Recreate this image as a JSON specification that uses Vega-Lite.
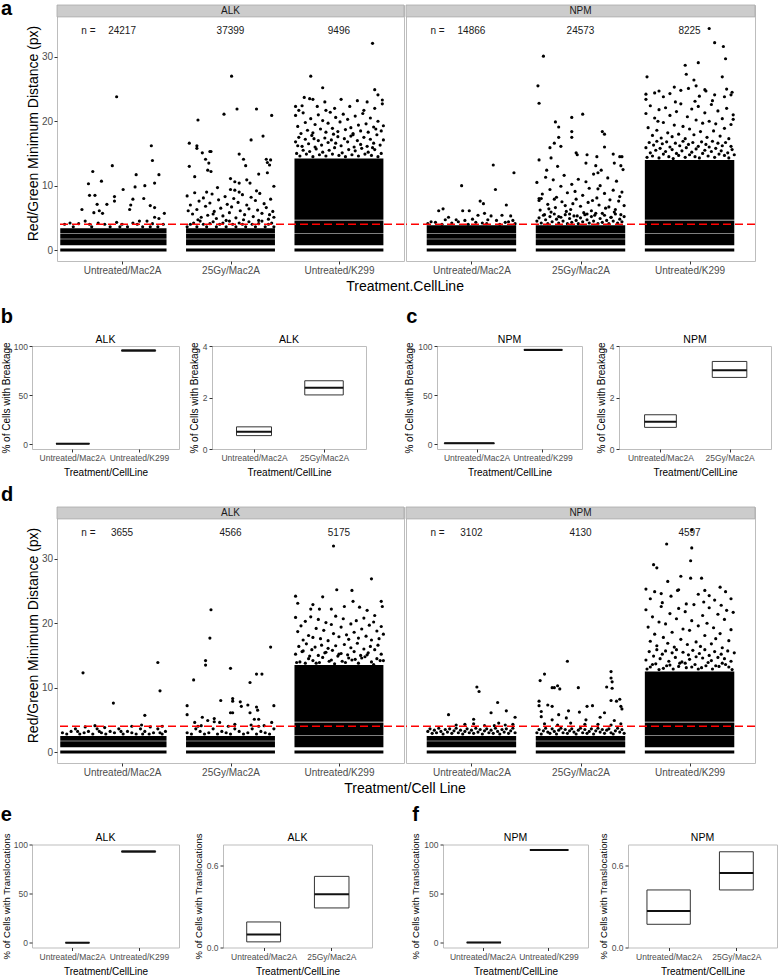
{
"$schema":"https://vega.github.io/schema/vega-lite/v6.json",
"padding":{"left":0,"right":0,"top":-1,"bottom":0},
"background":"white",
"config":{"font":"Liberation Sans","view":{"stroke":"#bdbdbd","strokeWidth":1},
"axis":{"grid":false,"domain":false,"tickColor":"#333333","tickSize":3,"tickWidth":1,"labelColor":"#4d4d4d","titleColor":"#000000","titleFontWeight":"normal","labelFlush":false,"labelOverlap":false,"labelFont":"Liberation Sans","titleFont":"Liberation Sans"},
"title":{"fontWeight":"normal","color":"#000000","font":"Liberation Sans"}},
"datasets":{
"nlab":[{"g":"aALK","x":0.69,"t":"n ="},{"g":"aALK","x":1,"t":"24217"},{"g":"aALK","x":2,"t":"37399"},{"g":"aALK","x":3,"t":"9496"},{"g":"aNPM","x":0.69,"t":"n ="},{"g":"aNPM","x":1,"t":"14866"},{"g":"aNPM","x":2,"t":"24573"},{"g":"aNPM","x":3,"t":"8225"},{"g":"dALK","x":0.69,"t":"n ="},{"g":"dALK","x":1,"t":"3655"},{"g":"dALK","x":2,"t":"4566"},{"g":"dALK","x":3,"t":"5175"},{"g":"dNPM","x":0.69,"t":"n ="},{"g":"dNPM","x":1,"t":"3102"},{"g":"dNPM","x":2,"t":"4130"},{"g":"dNPM","x":3,"t":"4597"}],
"aALKband":[{"x":0.43,"x2":1.41,"y":-0.24,"y2":0.24},{"x":0.43,"x2":1.41,"y":0.76,"y2":1.67},{"x":0.43,"x2":1.41,"y":1.74,"y2":2.5},{"x":0.43,"x2":1.41,"y":2.57,"y2":3.4},{"x":1.59,"x2":2.41,"y":-0.24,"y2":0.24},{"x":1.59,"x2":2.41,"y":0.76,"y2":1.67},{"x":1.59,"x2":2.41,"y":1.74,"y2":2.5},{"x":1.59,"x2":2.41,"y":2.57,"y2":3.4},{"x":2.59,"x2":3.41,"y":-0.24,"y2":0.24},{"x":2.59,"x2":3.41,"y":0.76,"y2":2.5},{"x":2.59,"x2":3.41,"y":2.57,"y2":4.6},{"x":2.59,"x2":3.41,"y":4.7,"y2":14.2}],
"aNPMband":[{"x":0.59,"x2":1.41,"y":-0.24,"y2":0.24},{"x":0.59,"x2":1.41,"y":0.76,"y2":1.67},{"x":0.59,"x2":1.41,"y":1.74,"y2":2.5},{"x":0.59,"x2":1.41,"y":2.57,"y2":3.85},{"x":1.59,"x2":2.41,"y":-0.24,"y2":0.24},{"x":1.59,"x2":2.41,"y":0.76,"y2":1.67},{"x":1.59,"x2":2.41,"y":1.74,"y2":2.5},{"x":1.59,"x2":2.41,"y":2.57,"y2":3.85},{"x":2.59,"x2":3.41,"y":-0.24,"y2":0.24},{"x":2.59,"x2":3.41,"y":0.76,"y2":2.5},{"x":2.59,"x2":3.41,"y":2.57,"y2":4.6},{"x":2.59,"x2":3.41,"y":4.7,"y2":14.0}],
"dALKband":[{"x":0.43,"x2":1.41,"y":-0.24,"y2":0.24},{"x":0.43,"x2":1.41,"y":0.76,"y2":1.67},{"x":0.43,"x2":1.41,"y":1.74,"y2":2.5},{"x":1.59,"x2":2.41,"y":-0.24,"y2":0.24},{"x":1.59,"x2":2.41,"y":0.76,"y2":1.67},{"x":1.59,"x2":2.41,"y":1.74,"y2":2.5},{"x":2.59,"x2":3.41,"y":-0.24,"y2":0.24},{"x":2.59,"x2":3.41,"y":0.76,"y2":2.5},{"x":2.59,"x2":3.41,"y":2.57,"y2":4.6},{"x":2.59,"x2":3.41,"y":4.7,"y2":13.5}],
"dNPMband":[{"x":0.59,"x2":1.41,"y":-0.24,"y2":0.24},{"x":0.59,"x2":1.41,"y":0.76,"y2":1.67},{"x":0.59,"x2":1.41,"y":1.74,"y2":2.5},{"x":1.59,"x2":2.41,"y":-0.24,"y2":0.24},{"x":1.59,"x2":2.41,"y":0.76,"y2":1.67},{"x":1.59,"x2":2.41,"y":1.74,"y2":2.5},{"x":2.59,"x2":3.41,"y":-0.24,"y2":0.24},{"x":2.59,"x2":3.41,"y":0.76,"y2":2.5},{"x":2.59,"x2":3.41,"y":2.57,"y2":4.6},{"x":2.59,"x2":3.41,"y":4.7,"y2":12.5}],
"aALKpts":[{"x":0.95,"y":23.8},{"x":1.27,"y":16.2},{"x":0.91,"y":13.1},{"x":0.73,"y":12.2},{"x":1.28,"y":13.9},{"x":0.69,"y":10.3},{"x":0.81,"y":10.7},{"x":1.13,"y":11.7},{"x":1.34,"y":11.7},{"x":1.01,"y":9.4},{"x":1.12,"y":9.8},{"x":1.21,"y":10},{"x":1.3,"y":10.4},{"x":0.7,"y":8.5},{"x":0.75,"y":8.5},{"x":0.93,"y":8.3},{"x":0.93,"y":7.6},{"x":1.08,"y":7},{"x":1.1,"y":7.9},{"x":1.2,"y":8},{"x":1.26,"y":6.9},{"x":1.3,"y":6.6},{"x":0.63,"y":6.3},{"x":0.74,"y":5.8},{"x":0.77,"y":7.1},{"x":0.79,"y":6.1},{"x":0.82,"y":5.7},{"x":0.86,"y":7.1},{"x":1.07,"y":6.3},{"x":1.34,"y":4.9},{"x":1.39,"y":5.7},{"x":1.3,"y":5.1},{"x":0.47,"y":4},{"x":0.55,"y":3.6},{"x":0.6,"y":4.1},{"x":0.66,"y":4.5},{"x":0.72,"y":3.6},{"x":0.78,"y":4.2},{"x":0.84,"y":4},{"x":0.89,"y":3.6},{"x":0.95,"y":4.3},{"x":1,"y":4},{"x":1.05,"y":3.6},{"x":1.1,"y":4.2},{"x":1.14,"y":4},{"x":1.19,"y":3.6},{"x":1.23,"y":4.5},{"x":1.28,"y":4.1},{"x":1.33,"y":3.6},{"x":1.38,"y":4},{"x":0.52,"y":4.2},{"x":0.98,"y":3.6},{"x":1.16,"y":4.5},{"x":0.7,"y":4},{"x":1.26,"y":3.6},
{"x":2.01,"y":27},{"x":1.7,"y":20.2},{"x":1.94,"y":21.1},{"x":2.06,"y":21.9},{"x":2.24,"y":21.9},{"x":2.38,"y":20.9},{"x":1.62,"y":16.6},{"x":1.69,"y":16.2},{"x":1.69,"y":15.8},{"x":1.74,"y":15.1},{"x":1.81,"y":15.3},{"x":1.82,"y":15.3},{"x":1.77,"y":14.1},{"x":1.8,"y":13.5},{"x":1.79,"y":12.4},{"x":1.82,"y":12.2},{"x":2.19,"y":17.1},{"x":2.3,"y":17.7},{"x":2.08,"y":14.9},{"x":2.12,"y":14.1},{"x":2.14,"y":13.1},{"x":2.33,"y":14.1},{"x":2.34,"y":13.6},{"x":2.37,"y":14},{"x":2.36,"y":13.2},{"x":2.34,"y":12},{"x":1.62,"y":13},{"x":1.67,"y":11.4},{"x":2,"y":11.1},{"x":2.04,"y":10.6},{"x":2.08,"y":10.4},{"x":2.15,"y":10.9},{"x":2.18,"y":10.4},{"x":2.26,"y":11.8},{"x":2.24,"y":9.2},{"x":2.4,"y":9.9},{"x":1.88,"y":9.7},{"x":2,"y":9.4},{"x":2.04,"y":9.3},
{"x":1.6,"y":8.4},{"x":1.63,"y":7},{"x":1.65,"y":5.6},{"x":1.67,"y":8.9},{"x":1.69,"y":6.3},{"x":1.71,"y":7.6},{"x":1.73,"y":5.1},{"x":1.75,"y":8.1},{"x":1.77,"y":6.8},{"x":1.79,"y":5.4},{"x":1.81,"y":7.3},{"x":1.83,"y":8.7},{"x":1.85,"y":6},{"x":1.87,"y":4.9},{"x":1.89,"y":7.8},{"x":1.91,"y":6.5},{"x":1.93,"y":5.3},{"x":1.95,"y":8.3},{"x":1.97,"y":7.1},{"x":1.99,"y":5.8},{"x":2.01,"y":6.7},{"x":2.03,"y":8},{"x":2.05,"y":5},{"x":2.07,"y":7.4},{"x":2.09,"y":6.1},{"x":2.11,"y":8.6},{"x":2.13,"y":5.5},{"x":2.15,"y":7},{"x":2.17,"y":6.4},{"x":2.19,"y":8.2},{"x":2.21,"y":5.2},{"x":2.23,"y":7.7},{"x":2.25,"y":6.2},{"x":2.27,"y":8.8},{"x":2.29,"y":5.7},{"x":2.31,"y":7.2},{"x":2.33,"y":6.6},{"x":2.35,"y":4.8},{"x":2.37,"y":7.9},{"x":2.39,"y":6},{"x":2.4,"y":5.1},{"x":1.61,"y":6.1},{"x":1.7,"y":4.7},{"x":1.84,"y":5.6},{"x":1.96,"y":4.6},{"x":2.12,"y":4.7},{"x":2.26,"y":4.6},{"x":2.36,"y":5.5},{"x":1.78,"y":9},{"x":2.08,"y":9},
{"x":1.6,"y":3.6},{"x":1.63,"y":4},{"x":1.66,"y":4.2},{"x":1.69,"y":3.6},{"x":1.72,"y":4.5},{"x":1.75,"y":4},{"x":1.78,"y":3.6},{"x":1.81,"y":4.1},{"x":1.84,"y":4.4},{"x":1.87,"y":3.6},{"x":1.9,"y":4},{"x":1.93,"y":4.2},{"x":1.96,"y":3.6},{"x":1.99,"y":4.5},{"x":2.02,"y":4},{"x":2.05,"y":3.6},{"x":2.08,"y":4.2},{"x":2.11,"y":4},{"x":2.14,"y":3.6},{"x":2.17,"y":4.4},{"x":2.2,"y":4},{"x":2.23,"y":3.6},{"x":2.26,"y":4.1},{"x":2.29,"y":4.5},{"x":2.32,"y":3.6},{"x":2.35,"y":4},{"x":2.38,"y":4.2},{"x":2.4,"y":3.6},
{"x":2.74,"y":27},{"x":2.85,"y":25.2},{"x":3.31,"y":32.1},{"x":3.33,"y":24.9},{"x":3.36,"y":24.1},{"x":2.68,"y":23.7},{"x":2.73,"y":23.5},{"x":2.76,"y":23.4},{"x":3.02,"y":23.4},{"x":2.87,"y":23},{"x":3.26,"y":23},{"x":3.4,"y":23.3},{"x":3.4,"y":22.7},{"x":3.17,"y":23.2},{"x":2.6,"y":22.3},{"x":2.63,"y":21.7},{"x":2.66,"y":22.4},{"x":2.8,"y":22.3},{"x":2.88,"y":21.7},{"x":2.96,"y":22},{"x":3.1,"y":22.3},{"x":3.23,"y":21.7},{"x":3.33,"y":22},
{"x":2.6,"y":20.9},{"x":2.62,"y":19.2},{"x":2.65,"y":18.1},{"x":2.67,"y":21.3},{"x":2.69,"y":19.8},{"x":2.71,"y":18.6},{"x":2.74,"y":20.4},{"x":2.76,"y":18.2},{"x":2.78,"y":19.5},{"x":2.81,"y":21},{"x":2.83,"y":18.8},{"x":2.85,"y":20.1},{"x":2.88,"y":18.3},{"x":2.9,"y":19.7},{"x":2.92,"y":21.4},{"x":2.94,"y":18.9},{"x":2.97,"y":20.6},{"x":2.99,"y":18.4},{"x":3.01,"y":19.9},{"x":3.04,"y":21.1},{"x":3.06,"y":18.7},{"x":3.08,"y":20.3},{"x":3.11,"y":19},{"x":3.13,"y":18.1},{"x":3.15,"y":20.8},{"x":3.18,"y":19.4},{"x":3.2,"y":18.5},{"x":3.22,"y":21.2},{"x":3.25,"y":19.6},{"x":3.27,"y":18.3},{"x":3.29,"y":20.5},{"x":3.32,"y":19.1},{"x":3.34,"y":18.8},{"x":3.36,"y":20},{"x":3.39,"y":18.5},{"x":3.41,"y":19.3},
{"x":2.6,"y":16.8},{"x":2.61,"y":15},{"x":2.63,"y":17.5},{"x":2.64,"y":14.6},{"x":2.66,"y":16.1},{"x":2.67,"y":15.5},{"x":2.69,"y":17.2},{"x":2.7,"y":14.9},{"x":2.72,"y":16.5},{"x":2.73,"y":15.3},{"x":2.75,"y":17.8},{"x":2.76,"y":14.5},{"x":2.78,"y":16},{"x":2.79,"y":15.7},{"x":2.81,"y":17},{"x":2.82,"y":14.8},{"x":2.84,"y":16.3},{"x":2.85,"y":15.2},{"x":2.87,"y":17.4},{"x":2.88,"y":14.6},{"x":2.9,"y":16.7},{"x":2.91,"y":15.5},{"x":2.93,"y":17.1},{"x":2.94,"y":14.9},{"x":2.96,"y":15.9},{"x":2.97,"y":16.6},{"x":2.99,"y":17.6},{"x":3,"y":14.7},{"x":3.02,"y":16.2},{"x":3.03,"y":15.1},{"x":3.05,"y":17.3},{"x":3.06,"y":14.5},{"x":3.08,"y":16.8},{"x":3.09,"y":15.6},{"x":3.11,"y":17.7},{"x":3.12,"y":14.8},{"x":3.14,"y":16},{"x":3.15,"y":15.4},{"x":3.17,"y":17},{"x":3.18,"y":14.6},{"x":3.2,"y":16.4},{"x":3.21,"y":15.8},{"x":3.23,"y":17.5},{"x":3.24,"y":14.9},{"x":3.26,"y":16.1},{"x":3.27,"y":15.2},{"x":3.29,"y":17.2},{"x":3.3,"y":14.7},{"x":3.32,"y":16.6},{"x":3.33,"y":15.6},{"x":3.35,"y":17.9},{"x":3.36,"y":14.5},{"x":3.38,"y":16.3},{"x":3.39,"y":15},{"x":3.41,"y":17.1},{"x":2.62,"y":16.2},{"x":2.77,"y":17.3},{"x":2.95,"y":18},{"x":3.13,"y":17.9},{"x":3.31,"y":15.9}],
"aNPMpts":[{"x":1.2,"y":13.2},{"x":1.39,"y":12},{"x":0.91,"y":10},{"x":1.22,"y":9.4},{"x":1.08,"y":7.6},{"x":1.11,"y":7.2},{"x":1.32,"y":7},{"x":0.7,"y":6.1},{"x":0.74,"y":6.4},{"x":0.92,"y":6.1},{"x":0.98,"y":6.1},{"x":0.79,"y":5.1},{"x":0.76,"y":4.7},{"x":1.06,"y":5.4},{"x":1.12,"y":5.7},{"x":1.18,"y":5.3},{"x":1.28,"y":5.4},{"x":1.36,"y":5.3},{"x":0.86,"y":4.7},{"x":0.94,"y":4.6},{"x":1.01,"y":4.8},{"x":1.15,"y":4.7},{"x":1.23,"y":4.6},{"x":1.38,"y":4.6},{"x":0.63,"y":4.4},{"x":0.82,"y":4.2},{"x":1.1,"y":4.2},{"x":1.31,"y":4.3},{"x":0.6,"y":4.1},{"x":0.67,"y":4.3},{"x":0.73,"y":4},{"x":0.88,"y":4.4},{"x":0.97,"y":4},{"x":1.04,"y":4.3},{"x":1.14,"y":4.1},{"x":1.26,"y":4},{"x":1.34,"y":4.4},{"x":1.4,"y":4.1},
{"x":1.66,"y":30.1},{"x":1.61,"y":25.5},{"x":1.62,"y":22.8},{"x":2.02,"y":21.1},{"x":1.92,"y":20.6},{"x":1.77,"y":19.9},{"x":1.8,"y":19.1},{"x":1.8,"y":17.5},{"x":1.76,"y":16.6},{"x":1.82,"y":16.1},{"x":1.92,"y":18.4},{"x":1.92,"y":17.5},{"x":1.72,"y":15.9},{"x":1.73,"y":14.3},{"x":1.62,"y":14},{"x":1.96,"y":15.1},{"x":1.97,"y":14.8},{"x":2.06,"y":14.8},{"x":2.15,"y":14.5},{"x":2.2,"y":18.4},{"x":2.22,"y":18},{"x":2.22,"y":16},{"x":2.3,"y":14.9},{"x":2.36,"y":14.5},{"x":2.38,"y":14.5},{"x":1.69,"y":12.4},{"x":1.79,"y":13},{"x":2.05,"y":13.5},{"x":2.14,"y":13.1},{"x":2.16,"y":12},{"x":2.31,"y":13.5},{"x":2.37,"y":13.1},{"x":2.39,"y":12.5},{"x":2.19,"y":12.4},{"x":1.62,"y":8},{"x":1.64,"y":8},
{"x":1.6,"y":10.5},{"x":1.63,"y":6.2},{"x":1.65,"y":8.7},{"x":1.67,"y":5.5},{"x":1.68,"y":11.3},{"x":1.7,"y":7.1},{"x":1.72,"y":9.4},{"x":1.73,"y":5.9},{"x":1.75,"y":10.9},{"x":1.77,"y":6.6},{"x":1.78,"y":8.2},{"x":1.8,"y":5.2},{"x":1.82,"y":9.9},{"x":1.83,"y":7.5},{"x":1.85,"y":11.6},{"x":1.87,"y":6},{"x":1.88,"y":8.9},{"x":1.9,"y":5.6},{"x":1.92,"y":10.2},{"x":1.93,"y":7.2},{"x":1.95,"y":9.1},{"x":1.97,"y":5.3},{"x":1.98,"y":11},{"x":2,"y":6.8},{"x":2.02,"y":8.5},{"x":2.03,"y":5.8},{"x":2.05,"y":10.6},{"x":2.07,"y":7.4},{"x":2.08,"y":9.6},{"x":2.1,"y":6.1},{"x":2.12,"y":11.8},{"x":2.13,"y":5.4},{"x":2.15,"y":8.1},{"x":2.17,"y":7},{"x":2.18,"y":10},{"x":2.2,"y":5.7},{"x":2.22,"y":8.8},{"x":2.23,"y":6.5},{"x":2.25,"y":11.2},{"x":2.27,"y":7.8},{"x":2.28,"y":5.1},{"x":2.3,"y":9.3},{"x":2.32,"y":6.3},{"x":2.33,"y":10.7},{"x":2.35,"y":7.6},{"x":2.37,"y":5.5},{"x":2.38,"y":9},{"x":2.4,"y":6.9},{"x":1.62,"y":7.7},{"x":1.76,"y":7.9},{"x":1.86,"y":6.9},{"x":1.96,"y":7.9},{"x":2.06,"y":5.6},{"x":2.16,"y":9.5},{"x":2.26,"y":6.7},{"x":2.36,"y":8.3},{"x":1.71,"y":6.4},{"x":1.91,"y":6.3},{"x":2.11,"y":7.7},{"x":2.31,"y":5.9},
{"x":1.6,"y":4.5},{"x":1.62,"y":5},{"x":1.64,"y":4.2},{"x":1.66,"y":5.4},{"x":1.68,"y":4.7},{"x":1.7,"y":4.1},{"x":1.72,"y":5.2},{"x":1.74,"y":4.4},{"x":1.76,"y":5.6},{"x":1.78,"y":4.8},{"x":1.8,"y":4.2},{"x":1.82,"y":5.1},{"x":1.84,"y":4.5},{"x":1.86,"y":5.5},{"x":1.88,"y":4.1},{"x":1.9,"y":4.9},{"x":1.92,"y":4.3},{"x":1.94,"y":5.3},{"x":1.96,"y":4.6},{"x":1.98,"y":4.1},{"x":2,"y":5},{"x":2.02,"y":4.4},{"x":2.04,"y":5.5},{"x":2.06,"y":4.7},{"x":2.08,"y":4.2},{"x":2.1,"y":5.2},{"x":2.12,"y":4.5},{"x":2.14,"y":5.7},{"x":2.16,"y":4.1},{"x":2.18,"y":4.9},{"x":2.2,"y":4.3},{"x":2.22,"y":5.4},{"x":2.24,"y":4.6},{"x":2.26,"y":4.1},{"x":2.28,"y":5.1},{"x":2.3,"y":4.5},{"x":2.32,"y":5.6},{"x":2.34,"y":4.2},{"x":2.36,"y":4.8},{"x":2.38,"y":4.4},{"x":2.4,"y":5.2},
{"x":3.18,"y":34.4},{"x":3.23,"y":32.2},{"x":3.31,"y":31.6},{"x":3.33,"y":29.7},{"x":3.08,"y":29.1},{"x":2.96,"y":28.7},{"x":2.97,"y":27.3},{"x":2.61,"y":26.9},{"x":3.04,"y":26.4},{"x":3.3,"y":26.9},{"x":3.06,"y":25.5},{"x":2.86,"y":25.3},{"x":2.92,"y":24.8},{"x":2.99,"y":25.1},{"x":3.14,"y":24.9},{"x":3.15,"y":24.7},{"x":3.34,"y":25},{"x":2.6,"y":24.2},{"x":2.6,"y":23.4},{"x":2.68,"y":24.4},{"x":2.72,"y":24.7},{"x":2.76,"y":23.8},{"x":2.82,"y":24.3},{"x":3.39,"y":24.5},{"x":3.38,"y":24.1},{"x":3.32,"y":23.8},{"x":3.23,"y":24.1},{"x":3.09,"y":23.9},{"x":3.4,"y":20.3},
{"x":2.6,"y":21.2},{"x":2.62,"y":19},{"x":2.64,"y":22.4},{"x":2.66,"y":17.8},{"x":2.68,"y":20.5},{"x":2.7,"y":18.6},{"x":2.72,"y":21.8},{"x":2.74,"y":17.4},{"x":2.76,"y":19.8},{"x":2.78,"y":22.1},{"x":2.8,"y":18.2},{"x":2.82,"y":20.9},{"x":2.84,"y":17.6},{"x":2.86,"y":19.4},{"x":2.88,"y":21.5},{"x":2.9,"y":18},{"x":2.92,"y":22.7},{"x":2.94,"y":19.2},{"x":2.96,"y":17.3},{"x":2.98,"y":20.7},{"x":3,"y":18.8},{"x":3.02,"y":21.9},{"x":3.04,"y":17.9},{"x":3.06,"y":20.2},{"x":3.08,"y":22.3},{"x":3.1,"y":18.4},{"x":3.12,"y":19.7},{"x":3.14,"y":21.3},{"x":3.16,"y":17.5},{"x":3.18,"y":20},{"x":3.2,"y":22.6},{"x":3.22,"y":18.5},{"x":3.24,"y":19.6},{"x":3.26,"y":21.6},{"x":3.28,"y":17.7},{"x":3.3,"y":20.4},{"x":3.32,"y":18.9},{"x":3.34,"y":22},{"x":3.36,"y":17.3},{"x":3.38,"y":19.5},{"x":3.4,"y":21},{"x":2.71,"y":20},{"x":2.87,"y":23},{"x":3.05,"y":23.1},{"x":3.21,"y":23.2},
{"x":2.6,"y":15.9},{"x":2.61,"y":14.4},{"x":2.63,"y":16.7},{"x":2.64,"y":15.1},{"x":2.66,"y":14.6},{"x":2.67,"y":16.3},{"x":2.69,"y":15.5},{"x":2.7,"y":16.9},{"x":2.72,"y":14.3},{"x":2.73,"y":15.8},{"x":2.75,"y":16.5},{"x":2.76,"y":14.9},{"x":2.78,"y":15.3},{"x":2.79,"y":16.8},{"x":2.81,"y":14.5},{"x":2.82,"y":16},{"x":2.84,"y":15.6},{"x":2.85,"y":14.2},{"x":2.87,"y":16.6},{"x":2.88,"y":15},{"x":2.9,"y":14.7},{"x":2.91,"y":16.2},{"x":2.93,"y":15.4},{"x":2.94,"y":16.9},{"x":2.96,"y":14.4},{"x":2.97,"y":15.9},{"x":2.99,"y":16.4},{"x":3,"y":14.8},{"x":3.02,"y":15.2},{"x":3.03,"y":16.7},{"x":3.05,"y":14.5},{"x":3.06,"y":15.7},{"x":3.08,"y":16.1},{"x":3.09,"y":14.3},{"x":3.11,"y":16.8},{"x":3.12,"y":15},{"x":3.14,"y":15.5},{"x":3.15,"y":16.4},{"x":3.17,"y":14.6},{"x":3.18,"y":16},{"x":3.2,"y":15.3},{"x":3.21,"y":16.9},{"x":3.23,"y":14.4},{"x":3.24,"y":15.8},{"x":3.26,"y":16.6},{"x":3.27,"y":14.9},{"x":3.29,"y":15.4},{"x":3.3,"y":16.2},{"x":3.32,"y":14.7},{"x":3.33,"y":16.7},{"x":3.35,"y":15.1},{"x":3.36,"y":14.3},{"x":3.38,"y":16.1},{"x":3.39,"y":15.6},{"x":3.41,"y":14.8}],
"dALKpts":[{"x":0.64,"y":12.3},{"x":0.92,"y":7.6},{"x":1.33,"y":13.9},{"x":1.35,"y":9.5},{"x":1.21,"y":5.7},{"x":0.66,"y":3.9},{"x":0.75,"y":4.1},{"x":0.84,"y":3.8},{"x":1.09,"y":4},{"x":1.18,"y":4.2},{"x":1.26,"y":3.9},{"x":1.37,"y":4},
{"x":0.45,"y":3},{"x":0.49,"y":2.8},{"x":0.53,"y":3.2},{"x":0.57,"y":3.6},{"x":0.61,"y":2.8},{"x":0.65,"y":3},{"x":0.69,"y":3.2},{"x":0.73,"y":2.8},{"x":0.77,"y":3.6},{"x":0.81,"y":3},{"x":0.85,"y":2.8},{"x":0.89,"y":3.2},{"x":0.93,"y":3},{"x":0.97,"y":3.6},{"x":1.01,"y":2.8},{"x":1.05,"y":3.2},{"x":1.09,"y":3},{"x":1.13,"y":2.8},{"x":1.17,"y":3.6},{"x":1.21,"y":3.2},{"x":1.25,"y":2.8},{"x":1.29,"y":3},{"x":1.33,"y":3.6},{"x":1.37,"y":2.8},{"x":1.4,"y":3.2},{"x":0.59,"y":3.2},{"x":0.79,"y":3.2},{"x":0.99,"y":3.2},{"x":1.19,"y":2.8},{"x":1.35,"y":3},
{"x":1.82,"y":22.1},{"x":1.81,"y":17.7},{"x":1.77,"y":14.2},{"x":1.77,"y":13.5},{"x":1.66,"y":11.2},{"x":2,"y":13},{"x":2.37,"y":16.3},{"x":2.24,"y":12.1},{"x":2.29,"y":12.1},{"x":2.18,"y":10.8},{"x":1.91,"y":8},{"x":2.02,"y":8.3},{"x":2.02,"y":7.9},{"x":2.09,"y":7.8},{"x":2.1,"y":7.1},{"x":2.16,"y":7.3},{"x":2.24,"y":7},{"x":2.25,"y":6.5},{"x":2.4,"y":7.2},{"x":1.6,"y":7.2},{"x":1.6,"y":5.8},{"x":2,"y":6.1},{"x":2.02,"y":6.1},{"x":2.18,"y":6.1},{"x":2.26,"y":5.1},{"x":2.22,"y":5.1},{"x":1.74,"y":5.4},{"x":1.85,"y":5.2},{"x":1.85,"y":4.7},{"x":1.79,"y":4.9},{"x":1.9,"y":4.6},{"x":1.67,"y":4.6},{"x":2.38,"y":4.6},{"x":2.04,"y":4.3},{"x":2.19,"y":4.2},{"x":2.31,"y":4.1},{"x":1.73,"y":4.1},
{"x":1.6,"y":3},{"x":1.64,"y":2.8},{"x":1.68,"y":3.6},{"x":1.72,"y":3.2},{"x":1.76,"y":2.8},{"x":1.8,"y":3},{"x":1.84,"y":3.6},{"x":1.88,"y":2.8},{"x":1.92,"y":3.2},{"x":1.96,"y":3},{"x":2,"y":2.8},{"x":2.04,"y":3.6},{"x":2.08,"y":3.2},{"x":2.12,"y":2.8},{"x":2.16,"y":3},{"x":2.2,"y":3.6},{"x":2.24,"y":2.8},{"x":2.28,"y":3.2},{"x":2.32,"y":3},{"x":2.36,"y":2.8},{"x":2.4,"y":3.6},{"x":1.7,"y":4},{"x":1.98,"y":4},{"x":2.26,"y":4},
{"x":2.95,"y":32},{"x":3.3,"y":26.9},{"x":2.6,"y":24.2},{"x":2.85,"y":24.1},{"x":2.98,"y":25.2},{"x":3.12,"y":25.1},{"x":3.13,"y":23.4},{"x":3.26,"y":22},{"x":3.39,"y":23.4},{"x":3.4,"y":22.6},{"x":2.62,"y":23.1},{"x":2.76,"y":22.9},{"x":2.74,"y":22.2},{"x":2.82,"y":22.2},{"x":2.93,"y":22.2},{"x":3.05,"y":22.6},{"x":3.19,"y":22.5},{"x":3.33,"y":21.2},
{"x":2.6,"y":20.9},{"x":2.62,"y":18.7},{"x":2.65,"y":19.6},{"x":2.67,"y":17.4},{"x":2.69,"y":20.3},{"x":2.72,"y":18.1},{"x":2.74,"y":21},{"x":2.76,"y":17.8},{"x":2.79,"y":19.2},{"x":2.81,"y":20.6},{"x":2.83,"y":17.6},{"x":2.86,"y":18.9},{"x":2.88,"y":20.1},{"x":2.9,"y":17.3},{"x":2.93,"y":19.8},{"x":2.95,"y":18.4},{"x":2.97,"y":21.1},{"x":3,"y":17.9},{"x":3.02,"y":19.4},{"x":3.04,"y":20.7},{"x":3.07,"y":18.2},{"x":3.09,"y":17.5},{"x":3.11,"y":19.9},{"x":3.14,"y":18.6},{"x":3.16,"y":20.4},{"x":3.18,"y":17.7},{"x":3.21,"y":19.1},{"x":3.23,"y":20.8},{"x":3.25,"y":18},{"x":3.28,"y":19.7},{"x":3.3,"y":17.4},{"x":3.32,"y":20.2},{"x":3.35,"y":18.8},{"x":3.37,"y":17.6},{"x":3.39,"y":19.5},{"x":3.41,"y":18.3},
{"x":2.6,"y":15.2},{"x":2.61,"y":13.9},{"x":2.63,"y":16.4},{"x":2.64,"y":14},{"x":2.66,"y":15.6},{"x":2.67,"y":15.7},{"x":2.69,"y":13.8},{"x":2.7,"y":16.8},{"x":2.72,"y":14.5},{"x":2.73,"y":14.9},{"x":2.75,"y":15.9},{"x":2.76,"y":14.2},{"x":2.78,"y":16.3},{"x":2.79,"y":13.8},{"x":2.81,"y":15},{"x":2.82,"y":13.9},{"x":2.84,"y":16.6},{"x":2.85,"y":14.7},{"x":2.87,"y":15.4},{"x":2.88,"y":15.5},{"x":2.9,"y":16.1},{"x":2.91,"y":14.1},{"x":2.93,"y":14.3},{"x":2.94,"y":15.8},{"x":2.96,"y":13.7},{"x":2.97,"y":16.5},{"x":2.99,"y":14.9},{"x":3,"y":15.2},{"x":3.02,"y":15.3},{"x":3.03,"y":14.1},{"x":3.05,"y":16.7},{"x":3.06,"y":13.9},{"x":3.08,"y":15.1},{"x":3.09,"y":14.6},{"x":3.11,"y":16.2},{"x":3.12,"y":14.3},{"x":3.14,"y":15.6},{"x":3.15,"y":14.4},{"x":3.17,"y":16.9},{"x":3.18,"y":13.8},{"x":3.2,"y":15},{"x":3.21,"y":14.6},{"x":3.23,"y":16},{"x":3.24,"y":14.8},{"x":3.26,"y":15.1},{"x":3.27,"y":15.4},{"x":3.29,"y":16.4},{"x":3.3,"y":14},{"x":3.32,"y":13.6},{"x":3.33,"y":15.9},{"x":3.35,"y":14.5},{"x":3.36,"y":16.6},{"x":3.38,"y":14.2},{"x":3.39,"y":15.2},{"x":3.41,"y":14.2}],
"dNPMpts":[{"x":0.79,"y":5.8},{"x":1.05,"y":10.1},{"x":1.07,"y":9.4},{"x":1.18,"y":6.1},{"x":1.24,"y":7.7},{"x":1.32,"y":6.4},{"x":1.4,"y":5.4},{"x":1.02,"y":5.1},{"x":1.25,"y":4.5},{"x":0.86,"y":4.2},{"x":0.94,"y":4.3},{"x":1.02,"y":4.4},{"x":1.12,"y":4.1},{"x":1.21,"y":4.1},{"x":1.31,"y":4.2},{"x":1.38,"y":4.3},
{"x":0.6,"y":3.2},{"x":0.62,"y":3.6},{"x":0.64,"y":2.9},{"x":0.66,"y":3.4},{"x":0.68,"y":3},{"x":0.7,"y":3.7},{"x":0.72,"y":3.2},{"x":0.74,"y":2.8},{"x":0.76,"y":3.5},{"x":0.78,"y":3.1},{"x":0.8,"y":3.6},{"x":0.82,"y":2.9},{"x":0.84,"y":3.3},{"x":0.86,"y":3.7},{"x":0.88,"y":3},{"x":0.9,"y":3.4},{"x":0.92,"y":2.8},{"x":0.94,"y":3.2},{"x":0.96,"y":3.6},{"x":0.98,"y":3},{"x":1,"y":3.4},{"x":1.02,"y":2.9},{"x":1.04,"y":3.7},{"x":1.06,"y":3.1},{"x":1.08,"y":3.5},{"x":1.1,"y":2.8},{"x":1.12,"y":3.3},{"x":1.14,"y":3.6},{"x":1.16,"y":3},{"x":1.18,"y":3.4},{"x":1.2,"y":2.9},{"x":1.22,"y":3.7},{"x":1.24,"y":3.2},{"x":1.26,"y":2.8},{"x":1.28,"y":3.5},{"x":1.3,"y":3.1},{"x":1.32,"y":3.6},{"x":1.34,"y":2.9},{"x":1.36,"y":3.3},{"x":1.38,"y":3.7},{"x":1.4,"y":3},
{"x":1.63,"y":11.1},{"x":1.67,"y":12.1},{"x":1.88,"y":14.1},{"x":1.74,"y":10},{"x":1.76,"y":10},{"x":1.79,"y":10.3},{"x":1.81,"y":9.8},{"x":1.98,"y":10},{"x":2.24,"y":10.1},{"x":2.28,"y":12.5},{"x":2.28,"y":11.5},{"x":2.29,"y":10.9},{"x":2.29,"y":9.9},{"x":1.62,"y":7.9},{"x":1.62,"y":7.2},{"x":1.7,"y":7.3},{"x":1.74,"y":7.1},{"x":1.64,"y":6.3},{"x":1.64,"y":5.5},{"x":1.74,"y":5},{"x":1.8,"y":5.8},{"x":1.89,"y":6.4},{"x":1.99,"y":6.2},{"x":2.06,"y":7.1},{"x":2.11,"y":7.2},{"x":2.18,"y":5.4},{"x":2.22,"y":6.1},{"x":2.28,"y":8},{"x":2.33,"y":7.9},{"x":2.36,"y":8.2},{"x":2.37,"y":7.1},{"x":2.38,"y":6.7},{"x":1.87,"y":5.3},{"x":2.05,"y":5},{"x":2.31,"y":4.9},{"x":1.67,"y":4.4},{"x":1.79,"y":4.2},{"x":1.91,"y":4.5},{"x":2.04,"y":4.3},{"x":2.16,"y":4.3},{"x":2.28,"y":4.2},{"x":2.37,"y":4.4},
{"x":1.6,"y":3},{"x":1.62,"y":3.5},{"x":1.64,"y":2.8},{"x":1.66,"y":3.3},{"x":1.68,"y":3.7},{"x":1.7,"y":3.1},{"x":1.72,"y":2.9},{"x":1.74,"y":3.6},{"x":1.76,"y":3.2},{"x":1.78,"y":2.8},{"x":1.8,"y":3.4},{"x":1.82,"y":3.7},{"x":1.84,"y":3},{"x":1.86,"y":3.5},{"x":1.88,"y":2.9},{"x":1.9,"y":3.3},{"x":1.92,"y":3.6},{"x":1.94,"y":3.1},{"x":1.96,"y":2.8},{"x":1.98,"y":3.4},{"x":2,"y":3.7},{"x":2.02,"y":3},{"x":2.04,"y":3.5},{"x":2.06,"y":2.9},{"x":2.08,"y":3.2},{"x":2.1,"y":3.6},{"x":2.12,"y":2.8},{"x":2.14,"y":3.3},{"x":2.16,"y":3.7},{"x":2.18,"y":3.1},{"x":2.2,"y":3.5},{"x":2.22,"y":2.9},{"x":2.24,"y":3.4},{"x":2.26,"y":3.6},{"x":2.28,"y":3},{"x":2.3,"y":2.8},{"x":2.32,"y":3.3},{"x":2.34,"y":3.7},{"x":2.36,"y":3.1},{"x":2.38,"y":3.5},{"x":2.4,"y":2.9},
{"x":2.79,"y":32.3},{"x":3.02,"y":31.7},{"x":3.01,"y":29.7},{"x":3.01,"y":27},{"x":2.67,"y":29.1},{"x":2.7,"y":28.6},{"x":2.8,"y":26.5},{"x":2.92,"y":27.3},{"x":3.11,"y":27},{"x":2.6,"y":25.3},{"x":3.28,"y":25.6},{"x":2.9,"y":25.2},{"x":3.02,"y":34.5},{"x":2.64,"y":23.8},{"x":2.68,"y":24.9},{"x":2.74,"y":24.6},{"x":2.83,"y":24.2},{"x":2.89,"y":25.1},{"x":3.08,"y":24.5},{"x":3.14,"y":25.1},{"x":3.18,"y":24.3},{"x":3.23,"y":23.6},{"x":3.38,"y":23.8},{"x":3.33,"y":24.9},
{"x":2.6,"y":22.1},{"x":2.62,"y":19.4},{"x":2.64,"y":17.2},{"x":2.66,"y":21},{"x":2.68,"y":18.3},{"x":2.7,"y":16.5},{"x":2.72,"y":20.2},{"x":2.74,"y":22.6},{"x":2.76,"y":17.8},{"x":2.78,"y":19.9},{"x":2.8,"y":16.9},{"x":2.82,"y":21.5},{"x":2.84,"y":18.6},{"x":2.86,"y":16.3},{"x":2.88,"y":20.7},{"x":2.9,"y":22.3},{"x":2.92,"y":17.5},{"x":2.94,"y":19.1},{"x":2.96,"y":21.8},{"x":2.98,"y":16.7},{"x":3,"y":18.9},{"x":3.02,"y":20.4},{"x":3.04,"y":22.9},{"x":3.06,"y":17.1},{"x":3.08,"y":19.6},{"x":3.1,"y":16.4},{"x":3.12,"y":21.2},{"x":3.14,"y":18.1},{"x":3.16,"y":20},{"x":3.18,"y":22.4},{"x":3.2,"y":16.8},{"x":3.22,"y":19.3},{"x":3.24,"y":17.6},{"x":3.26,"y":21.4},{"x":3.28,"y":18.4},{"x":3.3,"y":16.2},{"x":3.32,"y":20.6},{"x":3.34,"y":22},{"x":3.36,"y":17.3},{"x":3.38,"y":19},{"x":3.4,"y":21.7},{"x":2.75,"y":23.2},{"x":2.97,"y":23},{"x":3.13,"y":23.3},{"x":3.29,"y":22.8},
{"x":2.6,"y":14.3},{"x":2.61,"y":12.9},{"x":2.63,"y":15.6},{"x":2.64,"y":13.2},{"x":2.66,"y":13.6},{"x":2.67,"y":14.9},{"x":2.69,"y":13.7},{"x":2.7,"y":15.9},{"x":2.72,"y":12.8},{"x":2.73,"y":14.5},{"x":2.75,"y":15.2},{"x":2.76,"y":13},{"x":2.78,"y":15.7},{"x":2.79,"y":13.4},{"x":2.81,"y":14.1},{"x":2.82,"y":13.5},{"x":2.84,"y":15.4},{"x":2.85,"y":12.9},{"x":2.87,"y":14.7},{"x":2.88,"y":15.9},{"x":2.9,"y":13.3},{"x":2.91,"y":13.8},{"x":2.93,"y":14},{"x":2.94,"y":15.5},{"x":2.96,"y":13.8},{"x":2.97,"y":13.1},{"x":2.99,"y":15.1},{"x":3,"y":14.4},{"x":3.02,"y":13.2},{"x":3.03,"y":15.8},{"x":3.05,"y":13.6},{"x":3.06,"y":14.8},{"x":3.08,"y":12.9},{"x":3.09,"y":15.3},{"x":3.11,"y":13.1},{"x":3.12,"y":14.6},{"x":3.14,"y":15.9},{"x":3.15,"y":13.4},{"x":3.17,"y":13.9},{"x":3.18,"y":15},{"x":3.2,"y":14.2},{"x":3.21,"y":12.9},{"x":3.23,"y":15.6},{"x":3.24,"y":13.4},{"x":3.26,"y":14.7},{"x":3.27,"y":13.3},{"x":3.29,"y":15.2},{"x":3.3,"y":13.8},{"x":3.32,"y":14.5},{"x":3.33,"y":13.6},{"x":3.35,"y":15.7},{"x":3.36,"y":13.2},{"x":3.38,"y":14.1},{"x":3.39,"y":12.8},{"x":3.41,"y":15.4}],
"box":[{"p":"bL","x1":0.76,"x2":1.26,"lo":0.5,"md":0.67,"hi":0.86},{"p":"bL","x1":1.74,"x2":2.25,"lo":95.3,"md":95.8,"hi":96.4},{"p":"bR","x1":0.75,"x2":1.25,"lo":0.52,"md":0.67,"hi":0.86},{"p":"bR","x1":1.725,"x2":2.275,"lo":2.1,"md":2.38,"hi":2.65},{"p":"cL","x1":0.51,"x2":1.27,"lo":0.84,"md":1.06,"hi":1.33},{"p":"cL","x1":1.72,"x2":2.3,"lo":96.0,"md":96.5,"hi":97.1},{"p":"cR","x1":0.77,"x2":1.23,"lo":0.84,"md":1.06,"hi":1.33},{"p":"cR","x1":1.75,"x2":2.25,"lo":2.78,"md":3.06,"hi":3.4},{"p":"eL","x1":0.9,"x2":1.26,"lo":0.04,"md":0.09,"hi":0.19},{"p":"eL","x1":1.74,"x2":2.25,"lo":92.8,"md":93.3,"hi":93.8},{"p":"eR","x1":0.75,"x2":1.25,"lo":0.041,"md":0.094,"hi":0.186},{"p":"eR","x1":1.75,"x2":2.26,"lo":0.288,"md":0.387,"hi":0.518},{"p":"fL","x1":0.76,"x2":1.28,"lo":0.17,"md":0.27,"hi":0.42},{"p":"fL","x1":1.72,"x2":2.3,"lo":94.4,"md":94.9,"hi":95.4},{"p":"fR","x1":0.68,"x2":1.32,"lo":0.169,"md":0.266,"hi":0.419},{"p":"fR","x1":1.75,"x2":2.25,"lo":0.419,"md":0.542,"hi":0.697}]
},
"columns":1,"align":"none","spacing":6,
"concat":[
{"columns":1,"align":"none","spacing":12,"concat":[
{"hconcat":[
 {"width":1,"height":256,"view":{"stroke":null},"data":{"values":[{}]},"mark":{"type":"text"},"encoding":{"text":{"value":""}}},
 {"hconcat":[
 {"width":347,"height":256,
  "layer":[
   {"data":{"name":"aALKband"},"mark":{"type":"rect","color":"#000000"},
    "encoding":{"x":{"field":"x","type":"quantitative","scale":{"domain":[0.4,3.6],"nice":false,"zero":false},"axis":{"values":[1,2,3],"labelExpr":"datum.value==1?'Untreated/Mac2A':datum.value==2?'25Gy/Mac2A':'Untreated/K299'","title":null,"labelFontSize":10,"labelPadding":1.5}},
     "x2":{"field":"x2"},
     "y":{"field":"y","type":"quantitative","scale":{"domain":[-1.7,38.05],"nice":false,"zero":false},"axis":{"values":[0,10,20,30],"title":"Red/Green Minimum Distance (px)","titleFontSize":14,"labelFontSize":10,"labelPadding":1.5,"titlePadding":1}},
     "y2":{"field":"y2"}}},
   {"data":{"name":"aALKpts"},"mark":{"type":"circle","size":10,"color":"#000000","opacity":1},
    "encoding":{"x":{"field":"x","type":"quantitative"},"y":{"field":"y","type":"quantitative"}}},
   {"data":{"values":[{}]},"mark":{"type":"rect","fill":"#cccccc","stroke":"#aaaaaa","strokeWidth":0.8},
    "encoding":{"y":{"datum":36.2,"type":"quantitative"},"y2":{"datum":38.05}}},
   {"data":{"values":[{}]},"mark":{"type":"text","fontSize":10,"color":"#1a1a1a","baseline":"middle"},
    "encoding":{"x":{"datum":2,"type":"quantitative"},"y":{"datum":37.12,"type":"quantitative"},"text":{"value":"ALK"}}},
   {"data":{"values":[{}]},"mark":{"type":"rule","color":"#ff0000","strokeWidth":1.5,"strokeDash":[8,4]},
    "encoding":{"y":{"datum":4,"type":"quantitative"}}},
   {"data":{"name":"nlab"},"transform":[{"filter":"datum.g=='aALK'"}],"mark":{"type":"text","fontSize":10,"color":"#1a1a1a","baseline":"middle"},
    "encoding":{"x":{"field":"x","type":"quantitative"},"y":{"datum":34,"type":"quantitative"},"text":{"field":"t"}}}
  ]},
 {"width":349,"height":256,
  "layer":[
   {"data":{"name":"aNPMband"},"mark":{"type":"rect","color":"#000000"},
    "encoding":{"x":{"field":"x","type":"quantitative","scale":{"domain":[0.4,3.6],"nice":false,"zero":false},"axis":{"values":[1,2,3],"labelExpr":"datum.value==1?'Untreated/Mac2A':datum.value==2?'25Gy/Mac2A':'Untreated/K299'","title":null,"labelFontSize":10,"labelPadding":1.5}},
     "x2":{"field":"x2"},
     "y":{"field":"y","type":"quantitative","scale":{"domain":[-1.7,38.05],"nice":false,"zero":false},"axis":null},
     "y2":{"field":"y2"}}},
   {"data":{"name":"aNPMpts"},"mark":{"type":"circle","size":10,"color":"#000000","opacity":1},
    "encoding":{"x":{"field":"x","type":"quantitative"},"y":{"field":"y","type":"quantitative","axis":null}}},
   {"data":{"values":[{}]},"mark":{"type":"rect","fill":"#cccccc","stroke":"#aaaaaa","strokeWidth":0.8},
    "encoding":{"y":{"datum":36.2,"type":"quantitative","axis":null},"y2":{"datum":38.05}}},
   {"data":{"values":[{}]},"mark":{"type":"text","fontSize":10,"color":"#1a1a1a","baseline":"middle"},
    "encoding":{"x":{"datum":2,"type":"quantitative"},"y":{"datum":37.12,"type":"quantitative","axis":null},"text":{"value":"NPM"}}},
   {"data":{"values":[{}]},"mark":{"type":"rule","color":"#ff0000","strokeWidth":1.5,"strokeDash":[8,4]},
    "encoding":{"y":{"datum":4,"type":"quantitative","axis":null}}},
   {"data":{"name":"nlab"},"transform":[{"filter":"datum.g=='aNPM'"}],"mark":{"type":"text","fontSize":10,"color":"#1a1a1a","baseline":"middle"},
    "encoding":{"x":{"field":"x","type":"quantitative"},"y":{"datum":34,"type":"quantitative","axis":null},"text":{"field":"t"}}}
  ]}
 ],
 "spacing":-2,
 "title":{"text":"Treatment.CellLine","orient":"bottom","anchor":"middle","fontSize":14,"offset":4,"dx":14}}
 ],
 "spacing":23,
 "title":{"text":"a","anchor":"start","fontSize":20,"fontWeight":"bold","offset":-15}},
{"hconcat":[
 {"hconcat":[
  {"width":1,"height":103,"view":{"stroke":null},"data":{"values":[{}]},"mark":{"type":"text"},"encoding":{"text":{"value":""}}},
  {"hconcat":[
  {"width":147,"height":103,"title":{"text":"ALK","fontSize":10.5,"offset":-3.3},
   "data":{"name":"box"},"transform":[{"filter":"datum.p=='bL'"}],
   "layer":[
    {"mark":{"type":"rect","fill":"#ffffff","stroke":"#333333","strokeWidth":1},
     "encoding":{"x":{"field":"x1","type":"quantitative","scale":{"domain":[0.4,2.6],"nice":false,"zero":false},"axis":{"values":[1,2],"labelExpr":"datum.value==1?'Untreated/Mac2A':'Untreated/K299'","title":"Treatment/CellLine","titleFontSize":10,"labelFontSize":8.5,"labelPadding":1.5,"titlePadding":5}},
      "x2":{"field":"x2"},
      "y":{"field":"lo","type":"quantitative","scale":{"domain":[-4.8,100.5],"nice":false,"zero":false},"axis":{"values":[0,25,50,75,100],"title":"% of Cells with Breakage","titleFontSize":10,"labelFontSize":8.5,"labelPadding":1.5,"titlePadding":2}},
      "y2":{"field":"hi"}}},
    {"mark":{"type":"rule","strokeWidth":2,"color":"#111111"},
     "encoding":{"x":{"field":"x1","type":"quantitative"},"x2":{"field":"x2"},"y":{"field":"md","type":"quantitative"}}}
   ]},
  {"width":154,"height":103,"title":{"text":"ALK","fontSize":10.5,"offset":-3.3},
   "data":{"name":"box"},"transform":[{"filter":"datum.p=='bR'"}],
   "layer":[
    {"mark":{"type":"rect","fill":"#ffffff","stroke":"#333333","strokeWidth":1},
     "encoding":{"x":{"field":"x1","type":"quantitative","scale":{"domain":[0.4,2.6],"nice":false,"zero":false},"axis":{"values":[1,2],"labelExpr":"datum.value==1?'Untreated/Mac2A':'25Gy/Mac2A'","title":"Treatment/CellLine","titleFontSize":10,"labelFontSize":8.5,"labelPadding":1.5,"titlePadding":5}},
      "x2":{"field":"x2"},
      "y":{"field":"lo","type":"quantitative","scale":{"domain":[0,4],"nice":false,"zero":false},"axis":{"values":[0,1,2,3,4],"title":"% of Cells with Breakage","titleFontSize":10,"labelFontSize":8.5,"labelPadding":2,"titlePadding":3}},
      "y2":{"field":"hi"}}},
    {"mark":{"type":"rule","strokeWidth":2,"color":"#111111"},
     "encoding":{"x":{"field":"x1","type":"quantitative"},"x2":{"field":"x2"},"y":{"field":"md","type":"quantitative"}}}
   ]}
  ],
  "spacing":8}
 ],
 "spacing":-2,
 "title":{"text":"b","anchor":"start","fontSize":20,"fontWeight":"bold","offset":7.3}},
 {"hconcat":[
  {"width":145,"height":103,"title":{"text":"NPM","fontSize":10.5,"offset":-3.3},
   "data":{"name":"box"},"transform":[{"filter":"datum.p=='cL'"}],
   "layer":[
    {"mark":{"type":"rect","fill":"#ffffff","stroke":"#333333","strokeWidth":1},
     "encoding":{"x":{"field":"x1","type":"quantitative","scale":{"domain":[0.4,2.6],"nice":false,"zero":false},"axis":{"values":[1,2],"labelExpr":"datum.value==1?'Untreated/Mac2A':'Untreated/K299'","title":"Treatment/CellLine","titleFontSize":10,"labelFontSize":8.5,"labelPadding":1.5,"titlePadding":5}},
      "x2":{"field":"x2"},
      "y":{"field":"lo","type":"quantitative","scale":{"domain":[-4.8,100.5],"nice":false,"zero":false},"axis":{"values":[0,25,50,75,100],"title":"% of Cells with Breakage","titleFontSize":10,"labelFontSize":8.5,"labelPadding":2,"titlePadding":3}},
      "y2":{"field":"hi"}}},
    {"mark":{"type":"rule","strokeWidth":2,"color":"#111111"},
     "encoding":{"x":{"field":"x1","type":"quantitative"},"x2":{"field":"x2"},"y":{"field":"md","type":"quantitative"}}}
   ]},
  {"width":152,"height":103,"title":{"text":"NPM","fontSize":10.5,"offset":-3.3},
   "data":{"name":"box"},"transform":[{"filter":"datum.p=='cR'"}],
   "layer":[
    {"mark":{"type":"rect","fill":"#ffffff","stroke":"#333333","strokeWidth":1},
     "encoding":{"x":{"field":"x1","type":"quantitative","scale":{"domain":[0.4,2.6],"nice":false,"zero":false},"axis":{"values":[1,2],"labelExpr":"datum.value==1?'Untreated/Mac2A':'25Gy/Mac2A'","title":"Treatment/CellLine","titleFontSize":10,"labelFontSize":8.5,"labelPadding":1.5,"titlePadding":5}},
      "x2":{"field":"x2"},
      "y":{"field":"lo","type":"quantitative","scale":{"domain":[0,4],"nice":false,"zero":false},"axis":{"values":[0,1,2,3,4],"title":"% of Cells with Breakage","titleFontSize":10,"labelFontSize":8.5,"labelPadding":2,"titlePadding":3}},
      "y2":{"field":"hi"}}},
    {"mark":{"type":"rule","strokeWidth":2,"color":"#111111"},
     "encoding":{"x":{"field":"x1","type":"quantitative"},"x2":{"field":"x2"},"y":{"field":"md","type":"quantitative"}}}
   ]}
  ],
  "spacing":12,
  "title":{"text":"c","anchor":"start","fontSize":20,"fontWeight":"bold","offset":7.3,"dx":2}}
 ],
 "spacing":37}
]},
{"columns":1,"align":"none","spacing":8.5,"concat":[
{"hconcat":[
 {"width":1,"height":256,"view":{"stroke":null},"data":{"values":[{}]},"mark":{"type":"text"},"encoding":{"text":{"value":""}}},
 {"hconcat":[
 {"width":347,"height":256,
  "layer":[
   {"data":{"name":"dALKband"},"mark":{"type":"rect","color":"#000000"},
    "encoding":{"x":{"field":"x","type":"quantitative","scale":{"domain":[0.4,3.6],"nice":false,"zero":false},"axis":{"values":[1,2,3],"labelExpr":"datum.value==1?'Untreated/Mac2A':datum.value==2?'25Gy/Mac2A':'Untreated/K299'","title":null,"labelFontSize":10,"labelPadding":1.5}},
     "x2":{"field":"x2"},
     "y":{"field":"y","type":"quantitative","scale":{"domain":[-1.7,38.05],"nice":false,"zero":false},"axis":{"values":[0,10,20,30],"title":"Red/Green Minimum Distance (px)","titleFontSize":14,"labelFontSize":10,"labelPadding":1.5,"titlePadding":1}},
     "y2":{"field":"y2"}}},
   {"data":{"name":"dALKpts"},"mark":{"type":"circle","size":10,"color":"#000000","opacity":1},
    "encoding":{"x":{"field":"x","type":"quantitative"},"y":{"field":"y","type":"quantitative"}}},
   {"data":{"values":[{}]},"mark":{"type":"rect","fill":"#cccccc","stroke":"#aaaaaa","strokeWidth":0.8},
    "encoding":{"y":{"datum":36.2,"type":"quantitative"},"y2":{"datum":38.05}}},
   {"data":{"values":[{}]},"mark":{"type":"text","fontSize":10,"color":"#1a1a1a","baseline":"middle"},
    "encoding":{"x":{"datum":2,"type":"quantitative"},"y":{"datum":37.12,"type":"quantitative"},"text":{"value":"ALK"}}},
   {"data":{"values":[{}]},"mark":{"type":"rule","color":"#ff0000","strokeWidth":1.5,"strokeDash":[8,4]},
    "encoding":{"y":{"datum":4,"type":"quantitative"}}},
   {"data":{"name":"nlab"},"transform":[{"filter":"datum.g=='dALK'"}],"mark":{"type":"text","fontSize":10,"color":"#1a1a1a","baseline":"middle"},
    "encoding":{"x":{"field":"x","type":"quantitative"},"y":{"datum":34,"type":"quantitative"},"text":{"field":"t"}}}
  ]},
 {"width":349,"height":256,
  "layer":[
   {"data":{"name":"dNPMband"},"mark":{"type":"rect","color":"#000000"},
    "encoding":{"x":{"field":"x","type":"quantitative","scale":{"domain":[0.4,3.6],"nice":false,"zero":false},"axis":{"values":[1,2,3],"labelExpr":"datum.value==1?'Untreated/Mac2A':datum.value==2?'25Gy/Mac2A':'Untreated/K299'","title":null,"labelFontSize":10,"labelPadding":1.5}},
     "x2":{"field":"x2"},
     "y":{"field":"y","type":"quantitative","scale":{"domain":[-1.7,38.05],"nice":false,"zero":false},"axis":null},
     "y2":{"field":"y2"}}},
   {"data":{"name":"dNPMpts"},"mark":{"type":"circle","size":10,"color":"#000000","opacity":1},
    "encoding":{"x":{"field":"x","type":"quantitative"},"y":{"field":"y","type":"quantitative","axis":null}}},
   {"data":{"values":[{}]},"mark":{"type":"rect","fill":"#cccccc","stroke":"#aaaaaa","strokeWidth":0.8},
    "encoding":{"y":{"datum":36.2,"type":"quantitative","axis":null},"y2":{"datum":38.05}}},
   {"data":{"values":[{}]},"mark":{"type":"text","fontSize":10,"color":"#1a1a1a","baseline":"middle"},
    "encoding":{"x":{"datum":2,"type":"quantitative"},"y":{"datum":37.12,"type":"quantitative","axis":null},"text":{"value":"NPM"}}},
   {"data":{"values":[{}]},"mark":{"type":"rule","color":"#ff0000","strokeWidth":1.5,"strokeDash":[8,4]},
    "encoding":{"y":{"datum":4,"type":"quantitative","axis":null}}},
   {"data":{"name":"nlab"},"transform":[{"filter":"datum.g=='dNPM'"}],"mark":{"type":"text","fontSize":10,"color":"#1a1a1a","baseline":"middle"},
    "encoding":{"x":{"field":"x","type":"quantitative"},"y":{"datum":34,"type":"quantitative","axis":null},"text":{"field":"t"}}}
  ]}
 ],
 "spacing":-2,
 "title":{"text":"Treatment/Cell Line","orient":"bottom","anchor":"middle","fontSize":14,"offset":4,"dx":14}}
 ],
 "spacing":23,
 "title":{"text":"d","anchor":"start","fontSize":20,"fontWeight":"bold","offset":1.5}},
{"hconcat":[
 {"hconcat":[
  {"width":1,"height":103,"view":{"stroke":null},"data":{"values":[{}]},"mark":{"type":"text"},"encoding":{"text":{"value":""}}},
  {"hconcat":[
  {"width":147,"height":103,"title":{"text":"ALK","fontSize":10.5,"offset":-10.5},
   "data":{"name":"box"},"transform":[{"filter":"datum.p=='eL'"}],
   "layer":[
    {"mark":{"type":"rect","fill":"#ffffff","stroke":"#333333","strokeWidth":1},
     "encoding":{"x":{"field":"x1","type":"quantitative","scale":{"domain":[0.4,2.6],"nice":false,"zero":false},"axis":{"values":[1,2],"labelExpr":"datum.value==1?'Untreated/Mac2A':'Untreated/K299'","title":"Treatment/CellLine","titleFontSize":10,"labelFontSize":8.5,"labelPadding":1.5,"titlePadding":6}},
      "x2":{"field":"x2"},
      "y":{"field":"lo","type":"quantitative","scale":{"domain":[-4.8,100.5],"nice":false,"zero":false},"axis":{"values":[0,25,50,75,100],"title":"% of Cells with Translocations","titleFontSize":9.5,"labelFontSize":8.5,"labelPadding":1.5,"titlePadding":2}},
      "y2":{"field":"hi"}}},
    {"mark":{"type":"rule","strokeWidth":2,"color":"#111111"},
     "encoding":{"x":{"field":"x1","type":"quantitative"},"x2":{"field":"x2"},"y":{"field":"md","type":"quantitative"}}}
   ]},
  {"width":149,"height":103,"title":{"text":"ALK","fontSize":10.5,"offset":-10.5},
   "data":{"name":"box"},"transform":[{"filter":"datum.p=='eR'"}],
   "layer":[
    {"mark":{"type":"rect","fill":"#ffffff","stroke":"#333333","strokeWidth":1},
     "encoding":{"x":{"field":"x1","type":"quantitative","scale":{"domain":[0.4,2.6],"nice":false,"zero":false},"axis":{"values":[1,2],"labelExpr":"datum.value==1?'Untreated/Mac2A':'25Gy/Mac2A'","title":"Treatment/CellLine","titleFontSize":10,"labelFontSize":8.5,"labelPadding":1.5,"titlePadding":6}},
      "x2":{"field":"x2"},
      "y":{"field":"lo","type":"quantitative","scale":{"domain":[0,0.75],"nice":false,"zero":false},"axis":{"values":[0,0.2,0.4,0.6],"format":".1f","title":"% of Cells with Translocations","titleFontSize":9.5,"labelFontSize":8.5,"labelPadding":2,"titlePadding":3}},
      "y2":{"field":"hi"}}},
    {"mark":{"type":"rule","strokeWidth":2,"color":"#111111"},
     "encoding":{"x":{"field":"x1","type":"quantitative"},"x2":{"field":"x2"},"y":{"field":"md","type":"quantitative"}}}
   ]}
  ],
  "spacing":12}
 ],
 "spacing":-2,
 "title":{"text":"e","anchor":"start","fontSize":20,"fontWeight":"bold","offset":7.5}},
 {"hconcat":[
  {"width":145,"height":103,"title":{"text":"NPM","fontSize":10.5,"offset":-10.5},
   "data":{"name":"box"},"transform":[{"filter":"datum.p=='fL'"}],
   "layer":[
    {"mark":{"type":"rect","fill":"#ffffff","stroke":"#333333","strokeWidth":1},
     "encoding":{"x":{"field":"x1","type":"quantitative","scale":{"domain":[0.4,2.6],"nice":false,"zero":false},"axis":{"values":[1,2],"labelExpr":"datum.value==1?'Untreated/Mac2A':'Untreated/K299'","title":"Treatment/CellLine","titleFontSize":10,"labelFontSize":8.5,"labelPadding":1.5,"titlePadding":6}},
      "x2":{"field":"x2"},
      "y":{"field":"lo","type":"quantitative","scale":{"domain":[-4.8,100.5],"nice":false,"zero":false},"axis":{"values":[0,25,50,75,100],"title":"% of Cells with Translocations","titleFontSize":9.5,"labelFontSize":8.5,"labelPadding":2,"titlePadding":3}},
      "y2":{"field":"hi"}}},
    {"mark":{"type":"rule","strokeWidth":2,"color":"#111111"},
     "encoding":{"x":{"field":"x1","type":"quantitative"},"x2":{"field":"x2"},"y":{"field":"md","type":"quantitative"}}}
   ]},
  {"width":149,"height":103,"title":{"text":"NPM","fontSize":10.5,"offset":-10.5},
   "data":{"name":"box"},"transform":[{"filter":"datum.p=='fR'"}],
   "layer":[
    {"mark":{"type":"rect","fill":"#ffffff","stroke":"#333333","strokeWidth":1},
     "encoding":{"x":{"field":"x1","type":"quantitative","scale":{"domain":[0.4,2.6],"nice":false,"zero":false},"axis":{"values":[1,2],"labelExpr":"datum.value==1?'Untreated/Mac2A':'25Gy/Mac2A'","title":"Treatment/CellLine","titleFontSize":10,"labelFontSize":8.5,"labelPadding":1.5,"titlePadding":6}},
      "x2":{"field":"x2"},
      "y":{"field":"lo","type":"quantitative","scale":{"domain":[0,0.75],"nice":false,"zero":false},"axis":{"values":[0,0.2,0.4,0.6],"format":".1f","title":"% of Cells with Translocations","titleFontSize":9.5,"labelFontSize":8.5,"labelPadding":2,"titlePadding":3}},
      "y2":{"field":"hi"}}},
    {"mark":{"type":"rule","strokeWidth":2,"color":"#111111"},
     "encoding":{"x":{"field":"x1","type":"quantitative"},"x2":{"field":"x2"},"y":{"field":"md","type":"quantitative"}}}
   ]}
  ],
  "spacing":8,
  "title":{"text":"f","anchor":"start","fontSize":20,"fontWeight":"bold","offset":7.5,"dx":2}}
 ],
 "spacing":37}
]}
]
}
